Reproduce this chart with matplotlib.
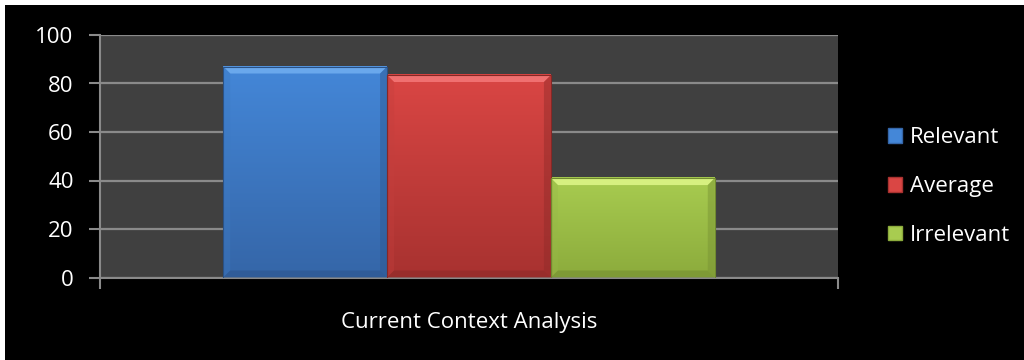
import numpy as np
import matplotlib
matplotlib.use('Agg')
import matplotlib.pyplot as plt
import matplotlib.patches as mpatches
from matplotlib.colors import to_rgb

plt.rcParams['font.family'] = ['Open Sans', 'DejaVu Sans']

category = 'Current Context Analysis'
series = ['Relevant', 'Average', 'Irrelevant']
values = [87, 83.5, 41]
y_ticks = [0, 20, 40, 60, 80, 100]

# (top, bottom, highlight) for each series
shades = [
    ('#4487d8', '#3566a8', '#6aa8ec'),
    ('#da4644', '#a83230', '#f07070'),
    ('#a8cc50', '#8cab3c', '#d6f080'),
]

BAR_W = 0.222
BEVEL_PX = 7
FS = 16


def mix(c, k):
    r = np.array(to_rgb(c))
    return tuple(np.clip(r * k, 0, 1)) if k < 1 else tuple(r + (1 - r) * (k - 1))


def bevel_bar(ax, x0, h, top, bottom, light, px_x, px_y):
    x1 = x0 + BAR_W
    # body with vertical gradient
    grad = np.linspace(0, 1, 256)[:, None]
    c_top = np.array(to_rgb(top))
    c_bot = np.array(to_rgb(bottom))
    img = c_bot + (c_top - c_bot) * grad
    img = np.repeat(img[:, None, :], 2, axis=1)
    ax.imshow(img, extent=(x0, x1, 0, h), origin='lower', aspect='auto',
              interpolation='bilinear', zorder=3)
    bx = BEVEL_PX * px_x
    by = BEVEL_PX * px_y
    # top bevel
    ax.add_patch(mpatches.Polygon([(x0, h), (x1, h), (x1 - bx, h - by), (x0 + bx, h - by)],
                                  closed=True, facecolor=light, edgecolor='none', zorder=4))
    # left / right bevels, kept faint
    ax.add_patch(mpatches.Polygon([(x0, 0), (x0, h), (x0 + bx, h - by), (x0 + bx, by)],
                                  closed=True, facecolor=mix(top, 0.9), edgecolor='none',
                                  alpha=0.35, zorder=4))
    ax.add_patch(mpatches.Polygon([(x1, 0), (x1, h), (x1 - bx, h - by), (x1 - bx, by)],
                                  closed=True, facecolor=mix(bottom, 0.85), edgecolor='none',
                                  alpha=0.45, zorder=4))
    # bottom bevel
    ax.add_patch(mpatches.Polygon([(x0, 0), (x1, 0), (x1 - bx, by), (x0 + bx, by)],
                                  closed=True, facecolor=mix(bottom, 0.88), edgecolor='none',
                                  alpha=0.8, zorder=4))
    ax.add_patch(mpatches.Rectangle((x0, 0), BAR_W, h, facecolor='none',
                                    edgecolor=mix(bottom, 0.8), lw=0.8, zorder=5))


fig = plt.figure(figsize=(10.24, 3.6), dpi=100, facecolor='white')
# black canvas, leaving a thin white strip at top and left
fig.patches.append(mpatches.Rectangle((5 / 1024, 0), 1, (360 - 5) / 360,
                                      transform=fig.transFigure, facecolor='black',
                                      edgecolor='none', zorder=-10))

ax_l, ax_r, ax_t, ax_b = 100, 838, 35, 277.5
ax = fig.add_axes([ax_l / 1024, (360 - ax_b) / 360, (ax_r - ax_l) / 1024, (ax_b - ax_t) / 360])
ax.set_facecolor('#404040')
ax.set_xlim(-0.5, 0.5)
ax.set_ylim(0, 100)

px_x = 1.0 / (ax_r - ax_l)
px_y = 100.0 / (ax_b - ax_t)

n = len(series)
for i, (name, v) in enumerate(zip(series, values)):
    x0 = (i - n / 2) * BAR_W
    top, bottom, light = shades[i]
    bevel_bar(ax, x0, v, top, bottom, light, px_x, px_y)

grid_c = '#8a8a8a'
ax.set_yticks(y_ticks)
ax.set_yticklabels([str(t) for t in y_ticks])
ax.yaxis.grid(True, color=grid_c, lw=1.6, zorder=1)
ax.set_axisbelow(True)

ax.set_xticks([-0.5, 0.5])
ax.set_xticklabels(['', ''])
ax.set_xticks([0], minor=True)
ax.set_xticklabels([category], minor=True)
ax.tick_params(axis='x', which='minor', length=0, pad=25)
ax.tick_params(axis='both', which='major', color=grid_c, length=8, width=1.5,
               direction='out')
ax.tick_params(axis='y', pad=11)
ax.tick_params(colors='white', labelsize=FS, which='both')
ax.tick_params(axis='both', which='major', color=grid_c)

for s in ['top', 'right']:
    ax.spines[s].set_visible(False)
for s in ['left', 'bottom']:
    ax.spines[s].set_color(grid_c)
    ax.spines[s].set_linewidth(1.5)

handles = [mpatches.Patch(facecolor=shades[i][0], edgecolor=shades[i][1], label=s)
           for i, s in enumerate(series)]
leg = fig.legend(handles=handles, loc='center left', bbox_to_anchor=(868 / 1024, 0.482),
                 frameon=False, fontsize=FS, labelcolor='white',
                 handlelength=0.65, handleheight=0.65, handletextpad=0.35,
                 labelspacing=1.25)

fig.savefig('out.png', dpi=100, facecolor=fig.get_facecolor())
